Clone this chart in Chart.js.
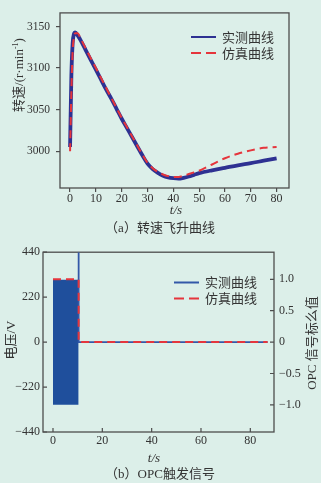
<!DOCTYPE html>
<html><head><meta charset="utf-8">
<script src="https://cdn.jsdelivr.net/npm/chart.js@4.4.1/dist/chart.umd.min.js"></script>
<style>
html,body{margin:0;padding:0;background:#dcefe9;width:321px;height:483px;overflow:hidden}
canvas{position:absolute;left:0}
#c1{top:0}
#c2{top:240px}
</style></head><body>
<canvas id="c1" width="321" height="240"></canvas>
<canvas id="c2" width="321" height="243"></canvas>
<script>
// ---- Chart (a): speed run-up ----
const speedTime = [0, 0.5, 1, 1.5, 2, 3, 4, 6, 8, 10, 12, 14, 16, 18, 20, 22, 24, 26, 28, 30, 32, 34, 36, 38, 40, 42, 44, 46, 48, 50, 55, 60, 65, 70, 75, 80];
const speedMeasured = [3005, 3090, 3130, 3141, 3143, 3139, 3134, 3122, 3110, 3098, 3086, 3074, 3063, 3051, 3039, 3028, 3017, 3006, 2995, 2985, 2978.5, 2974, 2970.5, 2968.5, 2967.5, 2967, 2968, 2969.5, 2971.5, 2973.5, 2977, 2980, 2983, 2985.6, 2988.5, 2991.3];
const speedSimulated = [3000, 3070, 3120, 3137, 3142, 3142, 3136, 3124, 3112, 3100, 3088, 3076, 3064, 3052, 3040, 3029, 3018, 3007, 2996, 2986, 2979.5, 2975, 2972, 2970, 2969, 2969, 2970.5, 2972.5, 2974.5, 2976.5, 2984, 2991.5, 2997, 3001, 3004, 3005];
const topXTicks = [0, 10, 20, 30, 40, 50, 60, 70, 80];
const topYTicks = [3000, 3050, 3100, 3150];

// ---- Chart (b): OPC trigger signal ----
const blockTime = [0, 10.4];
const voltageUpper = [305, 305];
const voltageLower = [-307, -307];
const measuredTime = [10.4, 10.4, 87];
const measuredVoltage = [440, 0, 0];
const simTime = [0, 10.4, 10.4, 87];
const simOpc = [1, 1, 0, 0];
const botXTicks = [0, 20, 40, 60, 80];
const voltTicks = [-440, -220, 0, 220, 440];
const opcTicks = [-1, -0.5, 0, 0.5, 1];

const legendLabels = ['实测曲线', '仿真曲线'];

const BLUE_TOP = '#2e3192';
const RED = '#e5353c';
const BLUE_BOT = '#3358a8';
const BLOCK = '#1f4f9c';
const TXT = '#333333';
const SERIF = "'Liberation Serif','Noto Sans CJK SC'";
const CJK = "'Noto Sans CJK SC'";

const pts = (xs, ys) => xs.map((x, i) => ({x: x, y: ys[i]}));
const minusFmt = v => (v < 0 ? '\u2212' : '') + Math.abs(v);

function drawLegend(ctx, x0, x1, xt, y1, y2, blueColor) {
  ctx.save();
  ctx.lineWidth = 2;
  ctx.strokeStyle = blueColor;
  ctx.beginPath(); ctx.moveTo(x0, y1); ctx.lineTo(x1, y1); ctx.stroke();
  ctx.strokeStyle = RED;
  ctx.setLineDash([10, 5]);
  ctx.beginPath(); ctx.moveTo(x0, y2); ctx.lineTo(x1, y2); ctx.stroke();
  ctx.setLineDash([]);
  ctx.fillStyle = TXT;
  ctx.font = "13px " + CJK;
  ctx.textBaseline = 'middle';
  ctx.textAlign = 'left';
  ctx.fillText(legendLabels[0], xt, y1);
  ctx.fillText(legendLabels[1], xt, y2);
  ctx.restore();
}

function frame(chart) {
  const {ctx, chartArea: a} = chart;
  ctx.save();
  ctx.strokeStyle = '#4d4d4d';
  ctx.lineWidth = 1.3;
  ctx.strokeRect(a.left, a.top, a.right - a.left, a.bottom - a.top);
  ctx.restore();
}

const deco1 = {
  id: 'deco1',
  beforeDatasetsDraw(chart) { frame(chart); },
  afterDraw(chart) {
    const ctx = chart.ctx;
    drawLegend(ctx, 191, 216, 222, 37, 53, BLUE_TOP);
    ctx.save();
    ctx.fillStyle = TXT;
    // y title
    ctx.translate(20, 75);
    ctx.rotate(-Math.PI / 2);
    ctx.textBaseline = 'middle';
    ctx.textAlign = 'left';
    const f1 = "13px " + SERIF, f2 = "8px " + SERIF;
    ctx.font = f1; const w1 = ctx.measureText('转速/(r·min').width;
    ctx.font = f2; const w2 = ctx.measureText('-1').width;
    ctx.font = f1; const w3 = ctx.measureText(')').width;
    let x = -(w1 + w2 + w3) / 2;
    ctx.font = f1; ctx.fillText('转速/(r·min', x, 0); x += w1;
    ctx.font = f2; ctx.fillText('-1', x, -4); x += w2;
    ctx.font = f1; ctx.fillText(')', x, 0);
    ctx.restore();
    ctx.save();
    ctx.fillStyle = TXT;
    ctx.textAlign = 'center';
    ctx.textBaseline = 'middle';
    ctx.font = "italic 13px 'Liberation Serif'";
    ctx.fillText('t/s', 176, 211);
    ctx.font = "13px " + SERIF;
    ctx.fillText('（a）转速飞升曲线', 160, 229);
    ctx.restore();
  }
};

new Chart(document.getElementById('c1'), {
  type: 'line',
  data: {
    datasets: [
      {label: legendLabels[0], data: pts(speedTime, speedMeasured), borderColor: BLUE_TOP, borderWidth: 3.8,
       pointRadius: 0, cubicInterpolationMode: 'monotone', order: 1, fill: false},
      {label: legendLabels[1], data: pts(speedTime, speedSimulated), borderColor: RED, borderWidth: 2,
       borderDash: [8, 5], pointRadius: 0, cubicInterpolationMode: 'monotone', order: 0, fill: false}
    ]
  },
  options: {
    responsive: false, animation: false, devicePixelRatio: 1,
    layout: {padding: {left: 0, right: 32, top: 4, bottom: 0}},
    plugins: {legend: {display: false}, tooltip: {enabled: false}},
    scales: {
      x: {type: 'linear', min: -3.9, max: 84.8,
        afterBuildTicks: s => { s.ticks = topXTicks.map(v => ({value: v})); },
        afterFit: s => { s.height = 52; },
        grid: {display: true, drawOnChartArea: false, drawTicks: true, tickLength: 4, tickColor: '#4d4d4d', lineWidth: 1.2},
        border: {display: false},
        ticks: {font: {family: 'Liberation Serif', size: 12, lineHeight: 1}, color: TXT, padding: 1, maxRotation: 0,
          callback: v => String(v)}
      },
      y: {type: 'linear', min: 2955.7, max: 3166.4,
        afterBuildTicks: s => { s.ticks = topYTicks.map(v => ({value: v})); },
        afterFit: s => { s.width = 60; },
        grid: {display: true, drawOnChartArea: false, drawTicks: true, tickLength: 4, tickColor: '#4d4d4d', lineWidth: 1.2},
        border: {display: false},
        ticks: {font: {family: 'Liberation Serif', size: 11.5}, color: TXT, padding: 6, callback: v => String(v)}
      }
    }
  },
  plugins: [deco1]
});

const deco2 = {
  id: 'deco2',
  beforeDatasetsDraw(chart) { frame(chart); },
  afterDraw(chart) {
    const ctx = chart.ctx;
    const a = chart.chartArea;
    const sx = chart.scales.x, sy = chart.scales.y, sy2 = chart.scales.y2;
    // inward tick marks
    ctx.save();
    ctx.strokeStyle = '#4d4d4d';
    ctx.lineWidth = 1.2;
    ctx.beginPath();
    botXTicks.forEach(v => { const p = sx.getPixelForValue(v); ctx.moveTo(p, a.bottom); ctx.lineTo(p, a.bottom - 4); });
    voltTicks.forEach(v => { const p = sy.getPixelForValue(v); ctx.moveTo(a.left, p); ctx.lineTo(a.left + 4, p); });
    opcTicks.forEach(v => { const p = sy2.getPixelForValue(v); ctx.moveTo(a.right, p); ctx.lineTo(a.right - 4, p); });
    ctx.stroke();
    ctx.restore();
    drawLegend(ctx, 174, 199, 205, 42.5, 58.5, BLUE_BOT);
    ctx.save();
    ctx.fillStyle = TXT;
    ctx.textAlign = 'center';
    ctx.textBaseline = 'middle';
    ctx.font = "13px " + SERIF;
    ctx.save(); ctx.translate(12, 100); ctx.rotate(-Math.PI / 2); ctx.fillText('电压/V', 0, 0); ctx.restore();
    ctx.save(); ctx.translate(313, 103); ctx.rotate(-Math.PI / 2); ctx.fillText('OPC 信号标么值', 0, 0); ctx.restore();
    ctx.font = "italic 13px 'Liberation Serif'";
    ctx.fillText('t/s', 154, 219);
    ctx.font = "13px " + SERIF;
    ctx.fillText('（b）OPC触发信号', 160, 235);
    ctx.restore();
  }
};

new Chart(document.getElementById('c2'), {
  type: 'line',
  data: {
    datasets: [
      {label: 'upper', data: pts(blockTime, voltageUpper), borderWidth: 0, borderColor: BLOCK, pointRadius: 0,
       fill: false, yAxisID: 'y', order: 3},
      {label: 'lower', data: pts(blockTime, voltageLower), borderWidth: 0, borderColor: BLOCK, pointRadius: 0,
       backgroundColor: BLOCK, fill: 0, yAxisID: 'y', order: 2},
      {label: legendLabels[0], data: pts(measuredTime, measuredVoltage), borderColor: BLUE_BOT, borderWidth: 1.8,
       pointRadius: 0, fill: false, yAxisID: 'y', order: 1},
      {label: legendLabels[1], data: pts(simTime, simOpc), borderColor: RED, borderWidth: 2, borderDash: [8, 5],
       pointRadius: 0, fill: false, yAxisID: 'y2', order: 0}
    ]
  },
  options: {
    responsive: false, animation: false, devicePixelRatio: 1,
    layout: {padding: {left: 0, right: 0, top: 7, bottom: 0}},
    plugins: {legend: {display: false}, tooltip: {enabled: false}},
    scales: {
      x: {type: 'linear', min: -4.05, max: 89.6,
        afterBuildTicks: s => { s.ticks = botXTicks.map(v => ({value: v})); },
        afterFit: s => { s.height = 51; },
        grid: {display: false, drawTicks: false}, border: {display: false},
        ticks: {font: {family: 'Liberation Serif', size: 12}, color: TXT, padding: 2, maxRotation: 0,
          callback: v => String(v)}
      },
      y: {type: 'linear', position: 'left', min: -440, max: 440,
        afterBuildTicks: s => { s.ticks = voltTicks.map(v => ({value: v})); },
        afterFit: s => { s.width = 43; },
        grid: {display: false, drawTicks: false}, border: {display: false},
        ticks: {font: {family: 'Liberation Serif', size: 12}, color: TXT, padding: 3, callback: v => minusFmt(v)}
      },
      y2: {type: 'linear', position: 'right', min: -1.432, max: 1.432,
        afterBuildTicks: s => { s.ticks = opcTicks.map(v => ({value: v})); },
        afterFit: s => { s.width = 47; },
        grid: {display: false, drawTicks: false}, border: {display: false},
        ticks: {font: {family: 'Liberation Serif', size: 12}, color: TXT, padding: 5,
          callback: v => v === 0 ? '0' : (v < 0 ? '\u2212' : '') + Math.abs(v).toFixed(1)}
      }
    }
  },
  plugins: [deco2]
});
</script>
</body></html>
